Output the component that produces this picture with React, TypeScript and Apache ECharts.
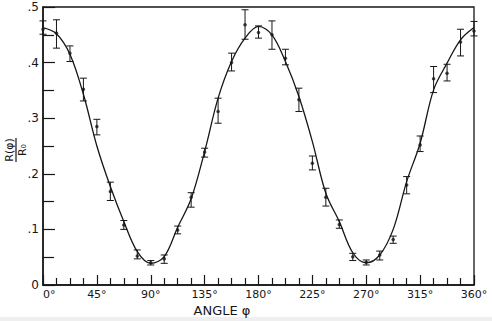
import React, { useEffect, useRef } from "react";
import * as echarts from "echarts";

const angles = [0, 11.25, 22.5, 33.75, 45, 56.25, 67.5, 78.75, 90, 101.25, 112.5, 123.75, 135, 146.25, 157.5, 168.75, 180, 191.25, 202.5, 213.75, 225, 236.25, 247.5, 258.75, 270, 281.25, 292.5, 303.75, 315, 326.25, 337.5, 348.75, 360];
const measured = [0.460, 0.453, 0.417, 0.352, 0.285, 0.168, 0.108, 0.052, 0.040, 0.047, 0.099, 0.158, 0.239, 0.312, 0.400, 0.468, 0.454, 0.450, 0.408, 0.333, 0.219, 0.158, 0.109, 0.051, 0.041, 0.054, 0.082, 0.180, 0.252, 0.371, 0.381, 0.437, 0.457];
const errHigh = [0.475, 0.477, 0.430, 0.372, 0.298, 0.185, 0.116, 0.063, 0.044, 0.054, 0.106, 0.166, 0.246, 0.336, 0.417, 0.495, 0.466, 0.475, 0.424, 0.354, 0.232, 0.174, 0.117, 0.057, 0.045, 0.061, 0.088, 0.195, 0.268, 0.393, 0.397, 0.460, 0.474];
const errLow = [0.451, 0.426, 0.402, 0.331, 0.270, 0.152, 0.100, 0.047, 0.036, 0.039, 0.092, 0.140, 0.230, 0.291, 0.385, 0.442, 0.444, 0.424, 0.396, 0.312, 0.207, 0.142, 0.102, 0.044, 0.036, 0.045, 0.075, 0.164, 0.240, 0.346, 0.367, 0.412, 0.448];
const fitted = [0.463, 0.452, 0.415, 0.343, 0.250, 0.177, 0.114, 0.060, 0.039, 0.051, 0.104, 0.155, 0.240, 0.336, 0.402, 0.444, 0.465, 0.450, 0.402, 0.339, 0.258, 0.165, 0.114, 0.058, 0.040, 0.054, 0.100, 0.186, 0.255, 0.351, 0.399, 0.441, 0.463];

const xTitle = "ANGLE φ";
const yNum = "R(φ)";
const yDen = "R₀";

const INK = "#161616";
const FONT = "DejaVu Sans";

export default function App() {
  const ref = useRef<HTMLDivElement>(null);
  useEffect(() => {
    if (!ref.current) return;
    const chart = echarts.init(ref.current, undefined, { renderer: "svg" });
    const errData = angles.map((a, i) => [a, errLow[i], errHigh[i]]);
    const dotData = angles.map((a, i) => [a, measured[i]]);
    const fitData = angles.map((a, i) => [a, fitted[i]]);
    chart.setOption({
      animation: false,
      backgroundColor: "#ffffff",
      grid: { left: 43, right: 18, top: 7, bottom: 36, show: true, borderColor: INK, borderWidth: 1.3, backgroundColor: "transparent" },
      xAxis: {
        type: "value",
        min: 0,
        max: 360,
        interval: 45,
        splitLine: { show: false },
        axisLine: { lineStyle: { color: INK, width: 1.5 } },
        axisTick: { inside: true, length: 10, lineStyle: { color: INK, width: 1.2 } },
        minorTick: { show: true, splitNumber: 4, length: 7, lineStyle: { color: INK, width: 1.2 } },
        axisLabel: {
          formatter: (v: number) => v + "°",
          color: INK,
          fontFamily: FONT,
          fontSize: 11,
          margin: 4,
          alignMinLabel: "left",
        },
      },
      yAxis: {
        type: "value",
        min: 0,
        max: 0.5,
        interval: 0.1,
        splitLine: { show: false },
        axisLine: { lineStyle: { color: INK, width: 1.5 } },
        axisTick: { inside: true, length: 12, lineStyle: { color: INK, width: 1.2 } },
        minorTick: { show: true, splitNumber: 2, length: 11, lineStyle: { color: INK, width: 1.2 } },
        axisLabel: {
          formatter: (v: number) => (v === 0 ? "0" : "." + Math.round(v * 10)),
          color: INK,
          fontFamily: FONT,
          fontSize: 12,
          margin: 4,
        },
      },
      graphic: [
        { type: "rect", left: 0, top: 317, shape: { width: 492, height: 4 }, style: { fill: "#efefef" }, silent: true },
        {
          type: "text",
          x: 222,
          y: 310,
          style: { text: xTitle, fill: INK, font: `13px "${FONT}"`, textAlign: "center", textVerticalAlign: "middle" },
        },
        {
          type: "group",
          x: 16,
          y: 150,
          rotation: Math.PI / 2,
          children: [
            { type: "text", x: 0, y: -1, style: { text: yNum, fill: INK, font: `11px "${FONT}"`, textAlign: "center", textVerticalAlign: "bottom" } },
            { type: "line", shape: { x1: -12, y1: 0, x2: 12, y2: 0 }, style: { stroke: INK, lineWidth: 1.2 } },
            { type: "text", x: 0, y: 1, style: { text: yDen, fill: INK, font: `11px "${FONT}"`, textAlign: "center", textVerticalAlign: "top" } },
          ],
        },
      ],
      series: [
        {
          type: "line",
          data: fitData,
          smooth: 0.35,
          showSymbol: false,
          lineStyle: { color: INK, width: 1.3 },
          z: 2,
        },
        {
          type: "custom",
          data: errData,
          renderItem: (params: any, api: any) => {
            const x = api.value(0);
            const lo = api.coord([x, api.value(1)]);
            const hi = api.coord([x, api.value(2)]);
            const w = 3.5;
            const st = { stroke: INK, lineWidth: 1 };
            return {
              type: "group",
              children: [
                { type: "line", shape: { x1: lo[0], y1: lo[1], x2: hi[0], y2: hi[1] }, style: st },
                { type: "line", shape: { x1: lo[0] - w, y1: lo[1], x2: lo[0] + w, y2: lo[1] }, style: st },
                { type: "line", shape: { x1: hi[0] - w, y1: hi[1], x2: hi[0] + w, y2: hi[1] }, style: st },
              ],
            };
          },
          z: 3,
        },
        {
          type: "scatter",
          data: dotData,
          symbol: "circle",
          symbolSize: 3.5,
          itemStyle: { color: INK },
          z: 4,
        },
      ],
    });
    return () => chart.dispose();
  }, []);
  return <div ref={ref} style={{ position: "fixed", left: 0, top: 0, width: 492, height: 321 }} />;
}
